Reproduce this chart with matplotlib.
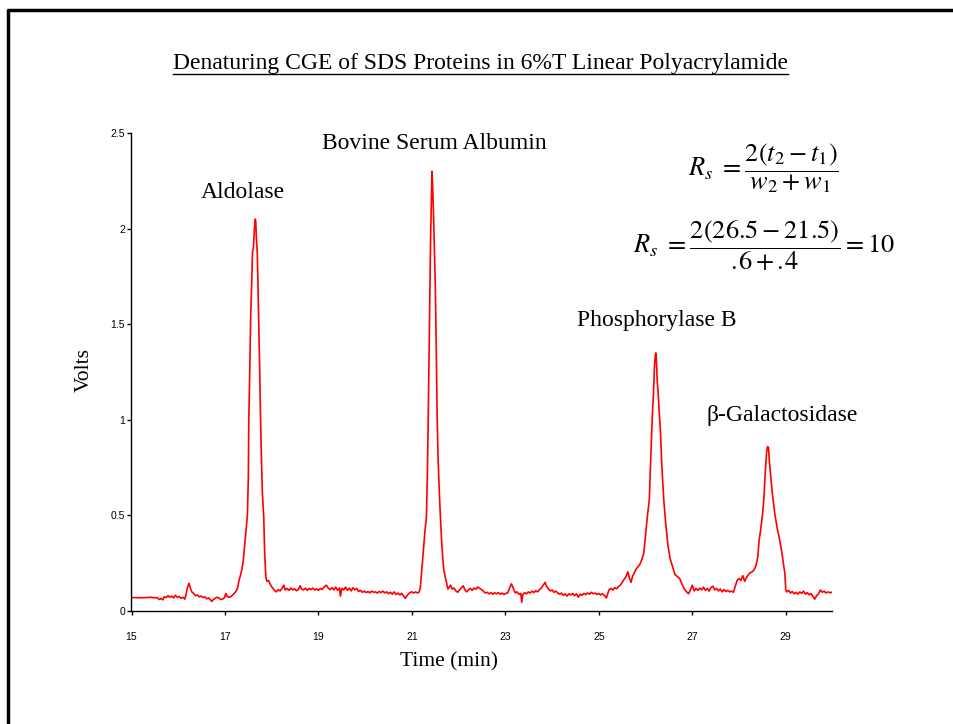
import matplotlib
matplotlib.use("Agg")
import matplotlib.pyplot as plt
from matplotlib.lines import Line2D

plt.rcParams['mathtext.fontset'] = 'stix'

# ---------------- data ----------------
title = "Denaturing CGE of SDS Proteins in 6%T Linear Polyacrylamide"
x_label = "Time (min)"
y_label = "Volts"
x_ticks = [15, 17, 19, 21, 23, 25, 27, 29]
y_ticks = [0, 0.5, 1, 1.5, 2, 2.5]
y_tick_labels = ["0", "0.5", "1", "1.5", "2", "2.5"]
peak_names = ["Aldolase", "Bovine Serum Albumin", "Phosphorylase B", "\u03b2-Galactosidase"]

trace = [
    (15.00,0.070),(15.10,0.070),(15.20,0.069),(15.30,0.070),(15.40,0.072),(15.45,0.070),(15.55,0.069),
    (15.60,0.060),(15.63,0.066),(15.67,0.058),(15.70,0.075),(15.74,0.070),(15.78,0.080),(15.82,0.072),
    (15.86,0.078),(15.90,0.068),(15.94,0.082),(15.98,0.072),(16.02,0.076),(16.06,0.066),(16.10,0.072),
    (16.14,0.062),(16.17,0.090),(16.20,0.125),(16.23,0.145),(16.26,0.120),(16.29,0.100),(16.33,0.092),
    (16.37,0.080),(16.41,0.084),(16.45,0.074),(16.49,0.078),(16.53,0.070),(16.57,0.074),(16.61,0.064),
    (16.65,0.068),(16.69,0.058),(16.72,0.050),(16.75,0.060),(16.79,0.066),(16.83,0.072),(16.87,0.068),
    (16.91,0.060),(16.95,0.062),(16.99,0.070),(17.02,0.092),(17.05,0.075),(17.09,0.072),(17.13,0.075),
    (17.17,0.085),(17.21,0.095),(17.24,0.105),(17.27,0.120),(17.30,0.160),(17.33,0.185),(17.36,0.215),
    (17.39,0.260),(17.42,0.340),(17.45,0.420),(17.48,0.500),(17.50,0.700),(17.51,1.000),(17.53,1.250),
    (17.55,1.540),(17.57,1.700),(17.59,1.880),(17.61,1.900),(17.63,2.000),(17.65,2.050),(17.66,2.030),
    (17.67,1.960),(17.69,1.880),(17.70,1.780),(17.72,1.540),(17.74,1.300),(17.76,1.020),(17.78,0.800),
    (17.80,0.620),(17.83,0.490),(17.85,0.300),(17.87,0.200),(17.88,0.170),(17.90,0.155),(17.93,0.160),
    (17.96,0.145),(17.99,0.130),(18.02,0.120),(18.06,0.108),(18.10,0.100),(18.14,0.112),(18.18,0.105),
    (18.22,0.118),(18.26,0.135),(18.29,0.110),(18.33,0.118),(18.37,0.108),(18.41,0.120),(18.45,0.110),
    (18.49,0.116),(18.53,0.106),(18.57,0.112),(18.61,0.132),(18.64,0.115),(18.68,0.110),(18.72,0.120),
    (18.76,0.108),(18.80,0.118),(18.84,0.112),(18.88,0.120),(18.92,0.110),(18.96,0.116),(19.00,0.108),
    (19.04,0.118),(19.08,0.112),(19.12,0.125),(19.17,0.135),(19.21,0.120),(19.25,0.112),(19.29,0.122),
    (19.33,0.110),(19.37,0.125),(19.41,0.108),(19.45,0.120),(19.47,0.078),(19.50,0.118),(19.54,0.110),
    (19.58,0.125),(19.62,0.108),(19.66,0.120),(19.70,0.105),(19.74,0.122),(19.78,0.110),(19.82,0.118),
    (19.86,0.102),(19.90,0.108),(19.94,0.098),(19.98,0.104),(20.02,0.096),(20.06,0.102),(20.10,0.095),
    (20.14,0.104),(20.18,0.098),(20.22,0.100),(20.26,0.094),(20.30,0.102),(20.34,0.096),(20.38,0.104),
    (20.42,0.095),(20.46,0.100),(20.50,0.090),(20.54,0.098),(20.58,0.088),(20.62,0.100),(20.66,0.086),
    (20.70,0.094),(20.74,0.084),(20.78,0.092),(20.82,0.080),(20.86,0.066),(20.89,0.078),(20.93,0.090),
    (20.97,0.098),(21.00,0.100),(21.04,0.094),(21.08,0.100),(21.12,0.094),(21.15,0.098),(21.18,0.120),
    (21.20,0.180),(21.22,0.240),(21.25,0.330),(21.28,0.420),(21.31,0.490),(21.33,0.700),(21.35,1.020),
    (21.37,1.400),(21.385,1.710),(21.40,1.950),(21.42,2.200),(21.43,2.300),(21.44,2.250),(21.46,2.100),
    (21.48,1.900),(21.50,1.710),(21.52,1.400),(21.54,1.020),(21.56,0.800),(21.59,0.600),(21.61,0.490),
    (21.64,0.350),(21.66,0.280),(21.68,0.220),(21.71,0.180),(21.74,0.150),(21.77,0.115),(21.80,0.125),
    (21.83,0.135),(21.86,0.115),(21.90,0.120),(21.94,0.105),(21.98,0.098),(22.02,0.110),(22.06,0.122),
    (22.10,0.132),(22.13,0.112),(22.17,0.100),(22.21,0.110),(22.25,0.118),(22.29,0.108),(22.33,0.120),
    (22.37,0.114),(22.41,0.126),(22.45,0.118),(22.49,0.112),(22.53,0.104),(22.57,0.094),(22.61,0.098),
    (22.65,0.090),(22.69,0.096),(22.73,0.088),(22.77,0.095),(22.81,0.090),(22.85,0.096),(22.89,0.088),
    (22.93,0.094),(22.97,0.086),(23.01,0.092),(23.05,0.095),(23.09,0.120),(23.13,0.142),(23.17,0.118),
    (23.21,0.095),(23.25,0.100),(23.29,0.088),(23.33,0.092),(23.35,0.045),(23.37,0.085),(23.41,0.095),
    (23.45,0.090),(23.49,0.100),(23.53,0.094),(23.57,0.104),(23.61,0.096),(23.65,0.106),(23.69,0.100),
    (23.73,0.112),(23.77,0.120),(23.81,0.135),(23.85,0.150),(23.88,0.130),(23.92,0.115),(23.96,0.105),
    (24.00,0.110),(24.04,0.098),(24.08,0.104),(24.12,0.094),(24.16,0.088),(24.20,0.094),(24.24,0.082),
    (24.28,0.090),(24.32,0.078),(24.36,0.090),(24.40,0.084),(24.44,0.092),(24.48,0.080),(24.52,0.090),
    (24.56,0.072),(24.60,0.088),(24.64,0.082),(24.68,0.092),(24.72,0.086),(24.76,0.094),(24.80,0.088),
    (24.84,0.098),(24.88,0.090),(24.92,0.094),(24.96,0.086),(25.00,0.092),(25.04,0.084),(25.08,0.090),
    (25.12,0.082),(25.16,0.068),(25.19,0.090),(25.22,0.112),(25.26,0.118),(25.30,0.110),(25.34,0.122),
    (25.38,0.116),(25.42,0.128),(25.46,0.135),(25.50,0.150),(25.54,0.165),(25.58,0.180),(25.62,0.205),
    (25.65,0.175),(25.69,0.150),(25.72,0.180),(25.76,0.200),(25.80,0.220),(25.84,0.232),(25.88,0.245),
    (25.92,0.270),(25.96,0.300),(25.99,0.370),(26.02,0.450),(26.05,0.520),(26.08,0.580),(26.11,0.800),
    (26.13,0.930),(26.15,1.050),(26.17,1.140),(26.19,1.280),(26.21,1.340),(26.22,1.350),(26.23,1.320),
    (26.25,1.200),(26.27,1.140),(26.29,1.050),(26.32,0.930),(26.35,0.750),(26.39,0.580),(26.43,0.460),
    (26.48,0.340),(26.53,0.270),(26.58,0.230),(26.63,0.190),(26.68,0.180),(26.73,0.170),(26.78,0.140),
    (26.83,0.115),(26.88,0.100),(26.92,0.090),(26.96,0.110),(27.00,0.135),(27.04,0.105),(27.08,0.118),
    (27.12,0.108),(27.16,0.120),(27.20,0.110),(27.24,0.125),(27.28,0.108),(27.32,0.118),(27.36,0.104),
    (27.40,0.122),(27.44,0.130),(27.48,0.110),(27.52,0.118),(27.56,0.105),(27.60,0.115),(27.64,0.100),
    (27.68,0.112),(27.72,0.102),(27.76,0.108),(27.80,0.100),(27.84,0.104),(27.88,0.098),(27.92,0.130),
    (27.96,0.160),(28.00,0.170),(28.04,0.160),(28.08,0.185),(28.12,0.155),(28.16,0.175),(28.20,0.190),
    (28.24,0.200),(28.28,0.205),(28.32,0.215),(28.36,0.235),(28.40,0.280),(28.43,0.370),(28.46,0.420),
    (28.50,0.500),(28.53,0.580),(28.56,0.720),(28.59,0.830),(28.61,0.860),(28.63,0.855),(28.65,0.780),
    (28.68,0.700),(28.71,0.620),(28.73,0.580),(28.77,0.500),(28.82,0.430),(28.87,0.370),(28.92,0.300),
    (28.96,0.230),(28.98,0.200),(29.00,0.110),(29.02,0.100),(29.06,0.108),(29.10,0.094),(29.14,0.102),
    (29.18,0.090),(29.22,0.098),(29.26,0.088),(29.30,0.100),(29.34,0.092),(29.38,0.104),(29.42,0.088),
    (29.46,0.096),(29.50,0.084),(29.54,0.092),(29.58,0.076),(29.62,0.062),(29.66,0.080),(29.70,0.090),
    (29.74,0.110),(29.78,0.098),(29.82,0.104),(29.86,0.094),(29.90,0.100),(29.94,0.096),(29.98,0.098),
    (30.00,0.095),
]
time_min = [p[0] for p in trace]
volts = [p[1] for p in trace]

# ---------------- figure ----------------
W, H = 954, 724
fig = plt.figure(figsize=(W / 100, H / 100), dpi=100)
fig.patch.set_facecolor("white")

def fx(px):
    return px / W

def fy(py):
    return 1 - py / H

ax = fig.add_axes([fx(131.5), fy(611), fx(832.5) - fx(131.5), fy(133) - fy(611)])
ax.plot(time_min, volts, color="#ff0000", lw=1.2)
ax.set_xlim(15, 30)
ax.set_ylim(0, 2.5)
for s in ["top", "right"]:
    ax.spines[s].set_visible(False)
for s in ["left", "bottom"]:
    ax.spines[s].set_linewidth(1.0)
ax.set_xticks(x_ticks)
ax.set_xticklabels([str(t) for t in x_ticks], fontsize=7.5, family="Liberation Sans")
ax.set_yticks(y_ticks)
ax.set_yticklabels(y_tick_labels, fontsize=7.5, family="Liberation Sans")
ax.tick_params(direction="out", length=2.7, width=1)
ax.tick_params(axis="y", pad=2)
ax.tick_params(axis="x", pad=12.5)

serif = "Liberation Serif"
fig.text(fx(449), fy(662), x_label, ha="center", va="center", fontsize=15.5, family=serif)
fig.text(fx(84), fy(370), y_label, ha="center", va="center", rotation=90, fontsize=15.5, family=serif)

# title with underline
t = fig.text(fx(481), fy(63), title, ha="center", va="center", fontsize=17, family=serif)
fig.canvas.draw()
bb = t.get_window_extent(renderer=fig.canvas.get_renderer())
inv = fig.transFigure.inverted()
(x0, y0), (x1, y1) = inv.transform([(bb.x0, bb.y0), (bb.x1, bb.y1)])
fig.add_artist(Line2D([x0, x1], [fy(74), fy(74)], transform=fig.transFigure, color="black", lw=1.0))

# peak labels
label_pos = [(243, 192), (434, 143.5), (657, 320.5), (782, 415.5)]
for name, (px, py) in zip(peak_names, label_pos):
    fig.text(fx(px), fy(py), name, ha="center", va="center", fontsize=17, family=serif)

# equations
fig.text(fx(763), fy(168), r"$R_s\ = \dfrac{2(t_2 - t_1)}{w_2 + w_1}$", ha="center", va="center", fontsize=19)
fig.text(fx(764), fy(246), r"$R_s\ = \dfrac{2(26.5 - 21.5)}{.\!6 + .\!4} = 10$", ha="center", va="center", fontsize=19)

# slide frame
fig.add_artist(Line2D([fx(7), 1.0], [fy(10), fy(10)], transform=fig.transFigure, color="black", lw=2.5, solid_capstyle="butt"))
fig.add_artist(Line2D([fx(8), fx(8)], [fy(9), 0.0], transform=fig.transFigure, color="black", lw=2.5, solid_capstyle="butt"))

fig.savefig("out.png", dpi=100, facecolor="white")
